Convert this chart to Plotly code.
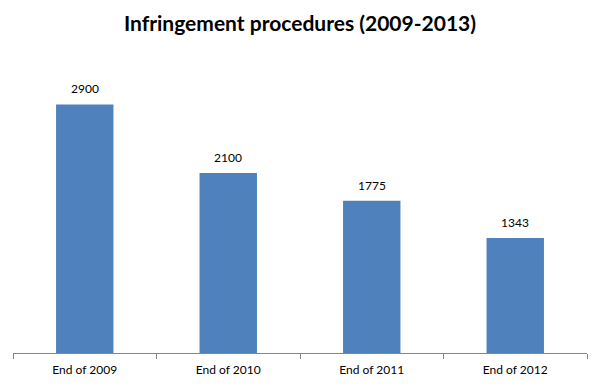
import plotly.graph_objects as go

categories = ["End of 2009", "End of 2010", "End of 2011", "End of 2012"]
values = [2900, 2100, 1775, 1343]
labels = ["2900", "2100", "1775", "1343"]

FONT = "Lato, Open Sans, sans-serif"

fig = go.Figure(go.Bar(
    x=categories, y=values,
    marker=dict(color="#4F81BD", line=dict(width=0)),
    cliponaxis=False,
    hoverinfo="x+y",
))
for c, v, t in zip(categories, values, labels):
    fig.add_annotation(x=c, y=v, text=t, showarrow=False, yanchor="bottom", yshift=6,
                       font=dict(family=FONT, size=12, color="#000000"))
fig.update_layout(
    width=600, height=389,
    margin=dict(l=13, r=13, t=53, b=31),
    paper_bgcolor="white", plot_bgcolor="white",
    bargap=0.6,
    showlegend=False,
    title=dict(text="<b>Infringement procedures (2009-2013)</b>", x=0.5, xanchor="center",
               y=0.938, yanchor="middle",
               font=dict(family=FONT, size=21, color="#000000")),
    xaxis=dict(showline=True, linecolor="#868686", linewidth=1, ticks="outside",
               tickson="boundaries", ticklen=5, tickcolor="#868686",
               ticklabelstandoff=6,
               tickfont=dict(family=FONT, size=12, color="#000000"),
               showgrid=False),
    yaxis=dict(range=[0, 3500], visible=False, showgrid=False, zeroline=False),
)
fig.write_html("out.html", config={"displayModeBar": False},
               post_script="document.body.style.margin='0';")
